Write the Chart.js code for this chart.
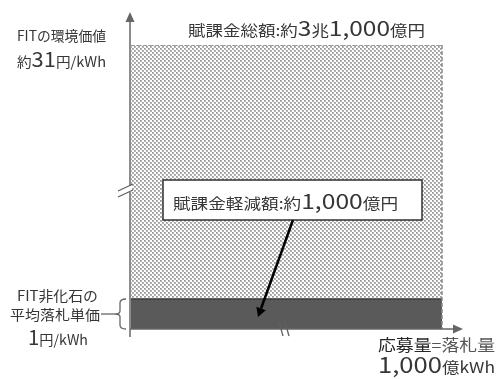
<!DOCTYPE html>
<html>
<head>
<meta charset="utf-8">
<script src="https://cdn.jsdelivr.net/npm/chart.js@4/dist/chart.umd.min.js"></script>
<style>
  html, body { margin: 0; padding: 0; background: #ffffff; }
  canvas { display: block; }
</style>
</head>
<body>
<canvas id="c" width="498" height="379"></canvas>
<script>
// ---- data ----
const volume = [0, 1000];          // 応募量=落札量 (億kWh)
const envValue = [31, 31];         // FITの環境価値 (円/kWh)
const bidPrice = [1, 1];           // FIT非化石の平均落札単価 (円/kWh)

// ---- label text ----
const fmt = n => n.toLocaleString('en-US');
const totalOku = envValue[0] * volume[1];           // 賦課金総額 (億円)
const reduceOku = bidPrice[0] * volume[1];          // 賦課金軽減額 (億円)
const totalCho = Math.floor(totalOku / 10000);
const totalRest = totalOku % 10000;

// y axis is broken above the bid price: the 0–1 band keeps a fixed share of the height
const Y_BREAK = bidPrice[0];
const BREAK_FRACTION = 30 / 284;

class BrokenScale extends Chart.LinearScale {
  static id = 'broken';
  getPixelForValue(value) {
    if (value === null || value === undefined) return NaN;
    let d;
    if (value <= Y_BREAK) d = (value - this.min) / (Y_BREAK - this.min) * BREAK_FRACTION;
    else d = BREAK_FRACTION + (value - Y_BREAK) / (this.max - Y_BREAK) * (1 - BREAK_FRACTION);
    return this.getPixelForDecimal(d);
  }
  getValueForPixel(pixel) {
    const d = this.getDecimalForPixel(pixel);
    if (d <= BREAK_FRACTION) return this.min + d / BREAK_FRACTION * (Y_BREAK - this.min);
    return Y_BREAK + (d - BREAK_FRACTION) / (1 - BREAK_FRACTION) * (this.max - Y_BREAK);
  }
}
Chart.register(BrokenScale);

// stipple fill
function makeStipple() {
  const t = document.createElement('canvas');
  t.width = 4; t.height = 4;
  const g = t.getContext('2d');
  g.fillStyle = '#ffffff'; g.fillRect(0, 0, 4, 4);
  g.fillStyle = '#b2b2b2';
  g.fillRect(0, 0, 2, 2);
  g.fillRect(2, 2, 2, 2);
  g.fillStyle = '#989898';
  g.fillRect(0, 0, 1, 1);
  g.fillRect(2, 2, 1, 1);
  return document.getElementById('c').getContext('2d').createPattern(t, 'repeat');
}

const FONT = '"Noto Sans CJK JP", "Noto Sans", sans-serif';

// draw a row of text runs, squeezed/stretched to a target width
function drawRuns(ctx, runs, x, baseline, width) {
  ctx.save();
  let natural = 0;
  runs.forEach(r => { ctx.font = r.size + 'px ' + FONT; r.w = ctx.measureText(r.t).width; natural += r.w; });
  const sx = width ? width / natural : 1;
  ctx.translate(x, baseline);
  ctx.scale(sx, 1);
  ctx.textBaseline = 'alphabetic';
  ctx.textAlign = 'left';
  let cx = 0;
  runs.forEach(r => {
    ctx.font = r.size + 'px ' + FONT;
    ctx.fillStyle = r.color || '#363636';
    ctx.fillText(r.t, cx, 0);
    cx += r.w;
  });
  ctx.restore();
}

function line(ctx, x1, y1, x2, y2) {
  ctx.beginPath(); ctx.moveTo(x1, y1); ctx.lineTo(x2, y2); ctx.stroke();
}

const diagramPlugin = {
  id: 'diagram',
  afterDatasetsDraw(chart) {
    const ctx = chart.ctx;
    const xs = chart.scales.x, ys = chart.scales.y;
    const x0 = xs.getPixelForValue(volume[0]);
    const x1 = xs.getPixelForValue(volume[1]);
    const yTop = ys.getPixelForValue(envValue[0]);
    const yBid = ys.getPixelForValue(bidPrice[0]);
    const yZero = ys.getPixelForValue(0);

    // dashed right edge of the levy block
    ctx.save();
    ctx.strokeStyle = '#8a8a8a';
    ctx.lineWidth = 1.5;
    ctx.setLineDash([4, 2]);
    line(ctx, x1, yTop, x1, yZero);
    ctx.restore();

    // axes
    ctx.save();
    ctx.strokeStyle = '#666666';
    ctx.fillStyle = '#666666';
    ctx.lineWidth = 1.5;
    const ax = x0 - 1;
    line(ctx, ax, 337, ax, 20);
    line(ctx, ax, yZero, 454, yZero);
    ctx.beginPath(); ctx.moveTo(ax, 12); ctx.lineTo(ax - 4.5, 22); ctx.lineTo(ax + 4.5, 22); ctx.closePath(); ctx.fill();
    ctx.beginPath(); ctx.moveTo(463, yZero); ctx.lineTo(453, yZero - 4.5); ctx.lineTo(453, yZero + 4.5); ctx.closePath(); ctx.fill();

    // y-axis break
    ctx.fillStyle = '#ffffff';
    ctx.fillRect(ax - 2, 186, 4, 6);
    ctx.strokeStyle = '#606060';
    ctx.lineWidth = 1.3;
    line(ctx, 118, 191, 133, 184);
    line(ctx, 118, 197, 133, 190);

    // x-axis break
    line(ctx, 279, 322, 283, 336);
    line(ctx, 285, 322, 289, 336);

    // brace beside the bid-price band
    ctx.strokeStyle = '#666666';
    ctx.lineWidth = 1.3;
    const mid = (yBid + yZero) / 2;
    ctx.beginPath();
    ctx.moveTo(126, yBid);
    ctx.quadraticCurveTo(120, yBid, 120, yBid + 4);
    ctx.lineTo(120, mid - 3);
    ctx.quadraticCurveTo(120, mid, 115, mid);
    ctx.quadraticCurveTo(120, mid, 120, mid + 3);
    ctx.lineTo(120, yZero - 4);
    ctx.quadraticCurveTo(120, yZero, 126, yZero);
    ctx.stroke();
    line(ctx, 101, mid, 115, mid);
    ctx.restore();
  },
  afterDraw(chart) {
    const ctx = chart.ctx;

    // callout box
    ctx.save();
    ctx.fillStyle = '#ffffff';
    ctx.fillRect(163, 180, 259, 40);
    ctx.strokeStyle = '#303030';
    ctx.lineWidth = 1.5;
    ctx.strokeRect(163, 180, 259, 40);
    ctx.restore();
    drawRuns(ctx, [
      { t: '賦課金軽減額:約', size: 15 },
      { t: fmt(reduceOku), size: 21 },
      { t: '億円', size: 15 }
    ], 173, 209, 225);

    // arrow from callout to the bid-price band
    ctx.save();
    ctx.strokeStyle = '#000000';
    ctx.fillStyle = '#000000';
    ctx.lineWidth = 2.5;
    const sx = 293, sy = 220, tx = 258, ty = 317;
    const ang = Math.atan2(ty - sy, tx - sx);
    const hx = tx - 9 * Math.cos(ang), hy = ty - 9 * Math.sin(ang);
    line(ctx, sx, sy, hx, hy);
    ctx.beginPath();
    ctx.moveTo(tx, ty);
    ctx.lineTo(hx + 5 * Math.cos(ang + Math.PI / 2), hy + 5 * Math.sin(ang + Math.PI / 2));
    ctx.lineTo(hx + 5 * Math.cos(ang - Math.PI / 2), hy + 5 * Math.sin(ang - Math.PI / 2));
    ctx.closePath();
    ctx.fill();
    ctx.restore();

    // labels
    drawRuns(ctx, [{ t: 'FITの環境価値', size: 14 }], 17, 41, 89);
    drawRuns(ctx, [
      { t: '約', size: 14 },
      { t: String(envValue[0]), size: 21 },
      { t: '円/kWh', size: 14 }
    ], 17, 67, 89);
    drawRuns(ctx, [
      { t: '賦課金総額:約', size: 15 },
      { t: String(totalCho), size: 21 },
      { t: '兆', size: 15 },
      { t: fmt(totalRest), size: 21 },
      { t: '億円', size: 15 }
    ], 188, 36, 237);
    drawRuns(ctx, [{ t: 'FIT非化石の', size: 14 }], 17, 301, 81);
    drawRuns(ctx, [{ t: '平均落札単価', size: 14 }], 10, 320, 90);
    drawRuns(ctx, [
      { t: String(bidPrice[0]), size: 20 },
      { t: '円/kWh', size: 14 }
    ], 28, 345, 60);
    drawRuns(ctx, [
      { t: '応募量', size: 16, color: '#262626' },
      { t: '=落札量', size: 16, color: '#555555' }
    ], 378, 351, 117);
    drawRuns(ctx, [
      { t: fmt(volume[1]), size: 22 },
      { t: '億kWh', size: 15 }
    ], 378, 373, 117);
  }
};

const stipple = makeStipple();

new Chart(document.getElementById('c'), {
  type: 'line',
  data: {
    datasets: [
      {
        label: '平均落札単価',
        data: volume.map((v, i) => ({ x: v, y: bidPrice[i] })),
        fill: 'origin',
        backgroundColor: '#5a5a5a',
        borderColor: '#3c3c3c',
        borderWidth: 1.5,
        pointRadius: 0,
        tension: 0
      },
      {
        label: '環境価値',
        data: volume.map((v, i) => ({ x: v, y: envValue[i] })),
        fill: '-1',
        backgroundColor: stipple,
        borderColor: '#8a8a8a',
        borderWidth: 1.5,
        borderDash: [4, 2],
        pointRadius: 0,
        tension: 0
      }
    ]
  },
  options: {
    responsive: false,
    animation: false,
    events: [],
    layout: { padding: { left: 131, right: 56, top: 45, bottom: 50 } },
    plugins: { legend: { display: false }, tooltip: { enabled: false } },
    scales: {
      x: { type: 'linear', min: 0, max: 1000, display: false },
      y: { type: 'broken', min: 0, max: 31, display: false }
    }
  },
  plugins: [diagramPlugin]
});
</script>
</body>
</html>
